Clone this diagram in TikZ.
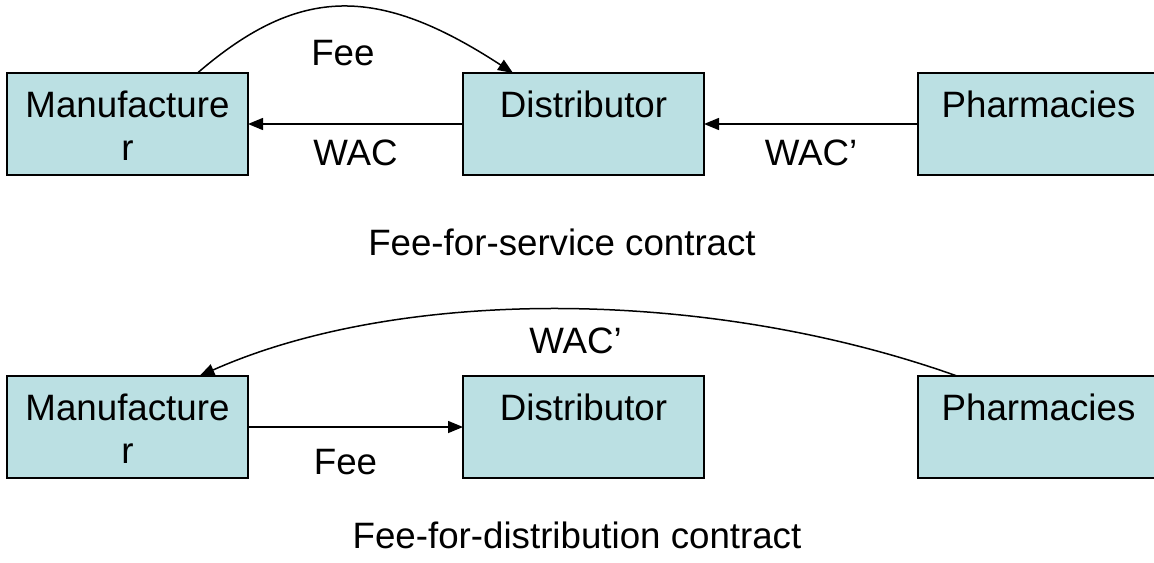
\documentclass[tikz,border=0pt]{standalone}
\usepackage{fontspec}
\setmainfont{Liberation Sans}
\usetikzlibrary{positioning, arrows.meta}
\definecolor{boxfill}{RGB}{187,224,227}

\begin{document}
\begin{tikzpicture}[>={Triangle[length=7.5pt,width=6pt]}, x=0.5pt, y=-0.5pt,
  font=\fontsize{18.35}{21.5}\selectfont,
  party/.style={draw, line width=0.9pt, fill=boxfill, minimum width=120.5pt,
    inner sep=0pt, outer sep=0pt, text height=22pt, text depth=29pt, align=center},
  partytwo/.style={party, text height=43.5pt, text depth=7.5pt},
  flow/.style={->, line width=0.75pt},
  lbl/.style={inner sep=0pt},
  node distance=107.5pt]
\useasboundingbox (0,0) rectangle (1154,562);

% fee-for-service row
\node[partytwo, anchor=north west] (man1) at (7,73) {Manufacture\\r};
\node[party, right=of man1] (dist1) {Distributor};
\node[party, right=107pt of dist1] (pharm1) {Pharmacies};

% fee-for-distribution row
\node[partytwo, below=100.5pt of man1] (man2) {Manufacture\\r};
\node[party, right=of man2] (dist2) {Distributor};
\node[party, right=107pt of dist2] (pharm2) {Pharmacies};

\node[anchor=base] (cap1) at (562,255) {Fee-for-service contract};
\node[anchor=base] (cap2) at (577,548) {Fee-for-distribution contract};

\draw[flow] (dist1) -- node[lbl, below=7.5pt] {WAC} (man1);
\draw[flow] (pharm1) -- node[lbl, below=7.5pt] {WAC’} (dist1);
\draw[flow] ([xshift=35pt]man1.north) .. controls +(102,-88) and +(-135,-88)
  .. node[lbl, below=16pt] {Fee} ([xshift=25pt]dist1.north west);

\draw[flow] (man2) -- node[lbl, below=10.5pt, xshift=-5pt] {Fee} (dist2);
\draw[flow] ([xshift=19.5pt]pharm2.north west) .. controls +(-250,-89) and +(200,-89)
  .. node[lbl, below=9pt, xshift=8pt] {WAC’} ([xshift=36pt]man2.north);

\end{tikzpicture}
\end{document}
